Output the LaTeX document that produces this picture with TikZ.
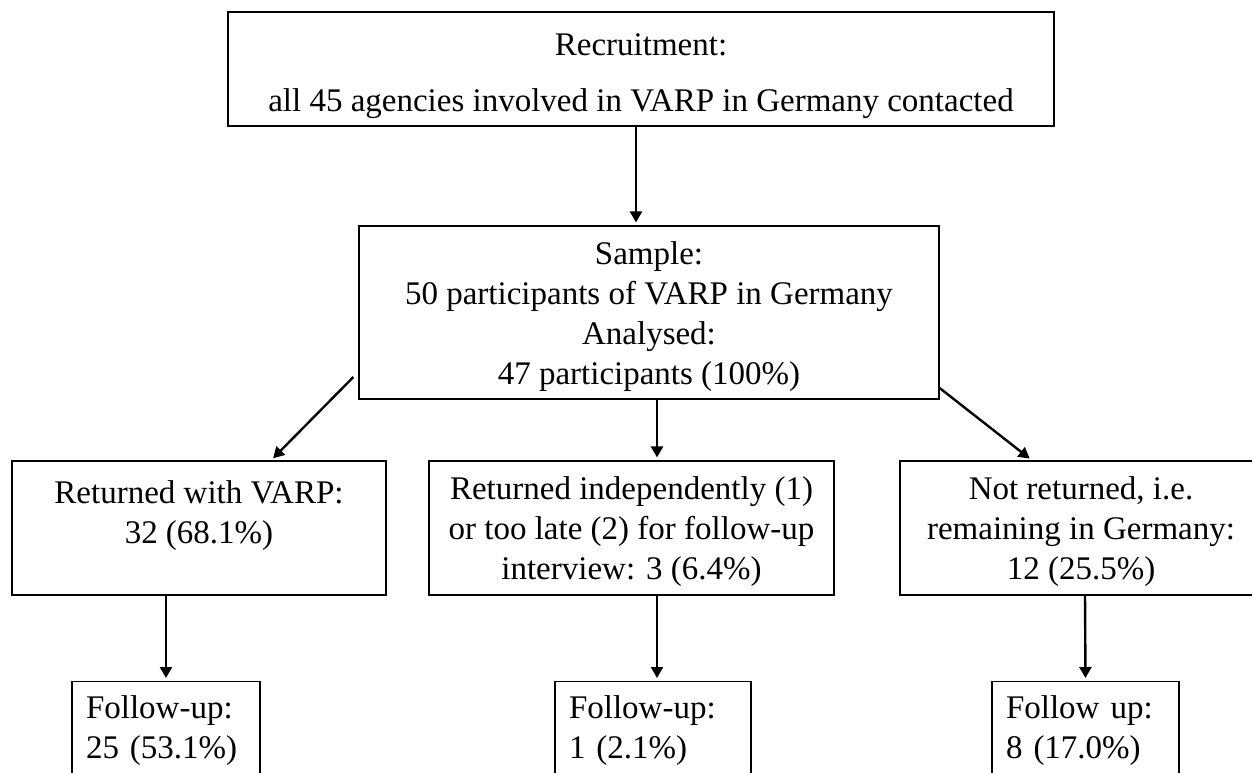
\documentclass[tikz,border=0pt]{standalone}
\usepackage{fontspec}
\setmainfont{Liberation Serif}
\usetikzlibrary{arrows.meta}
\usetikzlibrary{positioning,calc}
\tikzstyle{stage} = [rectangle,draw=black,line width=0.6pt,align=center,inner sep=0pt,font=\fontsize{16.5}{20}\selectfont]
\tikzstyle{branch} = [stage,minimum height=67pt]
\tikzstyle{followup} = [rectangle,draw=black,line width=0.6pt,align=left,anchor=north,inner xsep=7pt,inner ysep=7pt,font=\fontsize{16.5}{20}\selectfont]
\tikzstyle{arrow_flow} = [-{Triangle[length=5.5pt,width=6pt]}, draw=black, line width=1.2pt, shorten >=1.5pt]

\begin{document}
\begin{tikzpicture}[x=0.5pt,y=-0.5pt]
    \useasboundingbox (0,0) rectangle (1252,772);
    \clip (0,0) rectangle (1252,772);

      \node[stage,minimum width=413pt,minimum height=57pt] (recruit) at (641,69)
        {\rule{0pt}{18.3pt}Recruitment:\\[8pt]all 45 agencies involved in VARP in Germany contacted};
      \node[stage,minimum width=290pt,minimum height=86.5pt] (sample) at (649,312.5)
        {\rule{0pt}{15.3pt}Sample:\\50 participants of VARP in Germany\\Analysed:\\47 participants (100\%)};

      \node[branch,minimum width=187pt] (withvarp) at (199,528)
        {\rule{0pt}{15.3pt}Returned with VARP:\\32 (68.1\%)\\\mbox{}};
      \node[branch,minimum width=202.5pt] (independent) at (631.5,528)
        {\rule{0pt}{15.3pt}Returned independently (1)\\or too late (2) for follow-up\\interview: 3 (6.4\%)};
      \node[branch,minimum width=181pt] (remaining) at (1081,528)
        {\rule{0pt}{15.3pt}Not returned, i.e.\\remaining in Germany:\\12 (25.5\%)};

      \node[followup,text width=80pt] (fuvarp) at (166,681) {Follow-up:\\25 (53.1\%)\\\mbox{}};
      \node[followup,text width=84pt] (fuindep) at (653,681) {Follow-up:\\1 (2.1\%)\\\mbox{}};
      \node[followup,text width=79.5pt] (furemain) at (1085.5,681) {Follow up:\\8 (17.0\%)\\\mbox{}};

      \draw[arrow_flow] ([xshift=-2.5pt]recruit.south) -- ([xshift=-6.5pt]sample.north);
      \draw[arrow_flow] ([shift={(-5,64.5)}]sample.west) -- ([xshift=36pt]withvarp.north);
      \draw[arrow_flow] ([xshift=4pt]sample.south) -- ([xshift=12.75pt]independent.north);
      \draw[arrow_flow] ([shift={(0,75.5)}]sample.east) -- ([xshift=-24.5pt]remaining.north);
      \draw[arrow_flow] ([xshift=-16.5pt]withvarp.south) -- (fuvarp.north);
      \draw[arrow_flow] ([xshift=12.75pt]independent.south) -- ([xshift=2pt]fuindep.north);
      \draw[arrow_flow] ([xshift=2pt]remaining.south) -- (furemain.north);
    \end{tikzpicture}
\end{document}
